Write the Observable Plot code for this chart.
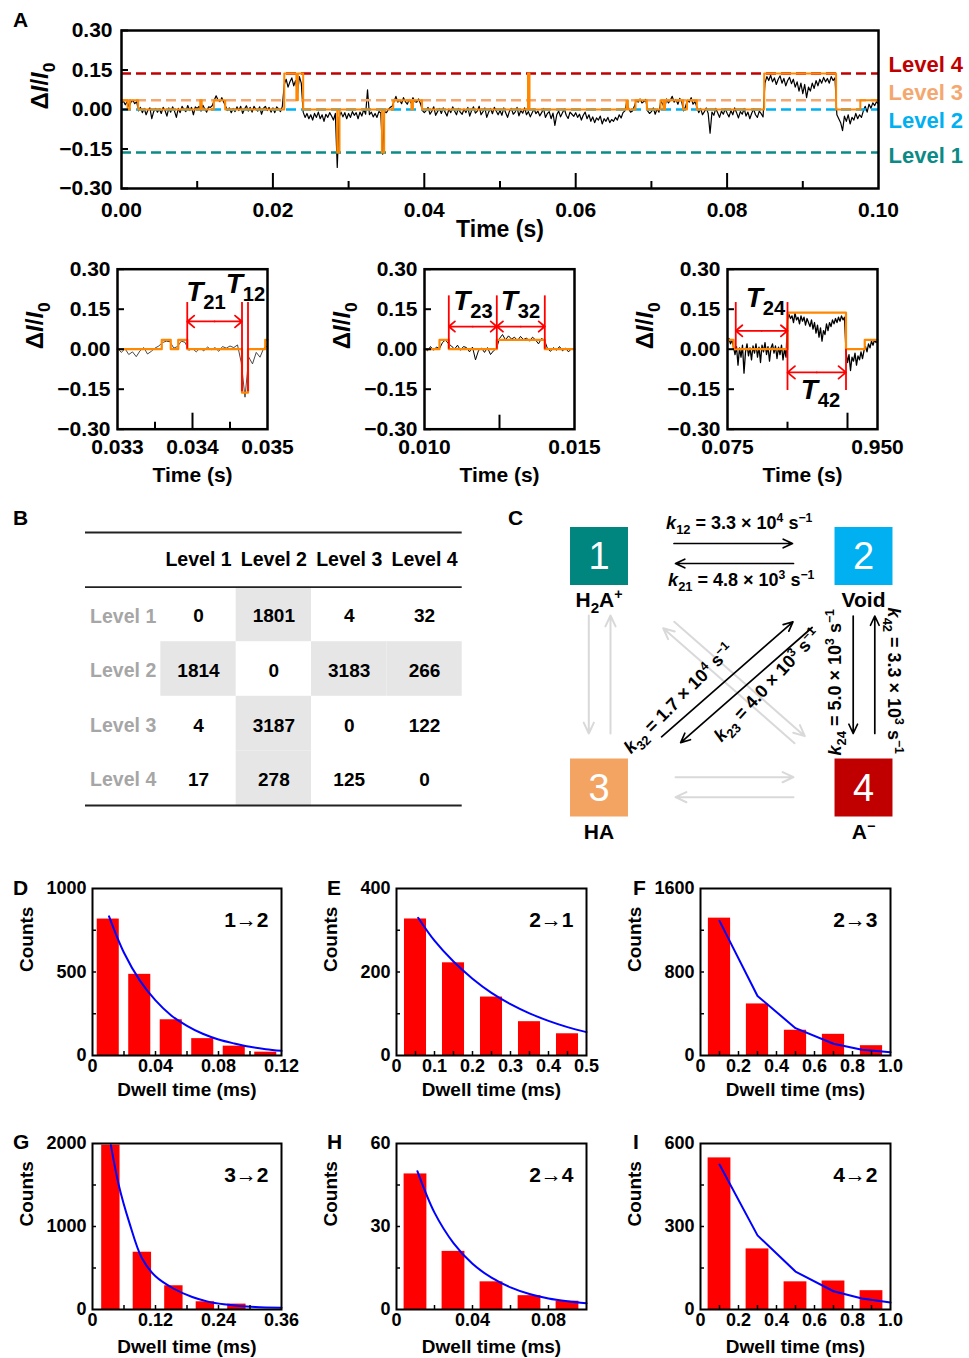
<!DOCTYPE html>
<html><head><meta charset="utf-8">
<script src="https://cdn.jsdelivr.net/npm/d3@7"></script>
<script src="https://cdn.jsdelivr.net/npm/@observablehq/plot@0.6"></script>
<style>
body{margin:0;background:#fff;}
#page{position:relative;width:969px;height:1358px;overflow:hidden;background:#fff;font-family:"Liberation Sans",Arial,sans-serif;}
#page svg{position:absolute;left:0;top:0;}
.letter{position:absolute;font-weight:bold;font-size:21px;line-height:21px;}
</style></head><body><div id="page"></div>
<script>
// ---------------- DATA ----------------
// Panel A: levels
const levelNames = ["Level 1","Level 2","Level 3","Level 4"];
const levelValues = [-0.163, 0.0, 0.035, 0.137];
// Panel A: raw trace (0 to 0.1 s, step 0.00025 s)
const traceStart = 0, traceStep = 0.00025;
const traceValues = [
0.025,0.032,0.018,0.03,0.01,0.028,0.035,0.022,0.03,-0.005,0.008,-0.012,0.004,-0.02,-0.002,0.006,-0.035,-0.008,0.004,-0.01,
0.002,-0.015,0.008,-0.004,-0.025,0.006,-0.01,0.01,-0.006,-0.03,0.004,-0.012,0.012,0.0,-0.008,0.015,-0.004,0.008,-0.02,0.01,
0.004,0.012,-0.006,0.016,0.002,-0.01,0.01,0.008,0.015,0.035,0.052,0.036,0.03,0.045,0.028,0.012,-0.004,0.006,-0.012,0.004,
-0.008,0.01,-0.004,0.012,-0.015,0.002,0.014,-0.006,0.008,-0.01,0.012,0.0,-0.006,0.01,-0.018,0.004,0.012,-0.004,0.008,-0.01,
0.006,-0.012,0.01,0.002,-0.008,0.012,0.095,0.115,0.085,0.105,0.12,0.09,0.11,0.06,0.125,0.1,-0.01,-0.03,-0.015,-0.035,
-0.02,-0.04,-0.015,-0.03,-0.01,-0.035,-0.02,-0.045,-0.018,-0.03,-0.012,-0.025,-0.04,-0.015,-0.22,-0.03,-0.01,-0.028,-0.012,-0.035,
-0.015,-0.03,-0.008,-0.022,-0.012,-0.035,-0.01,-0.025,0.0,-0.018,0.075,-0.02,-0.01,-0.028,-0.015,-0.03,-0.008,-0.012,-0.17,-0.008,
-0.012,0.0,0.008,0.012,0.03,0.05,0.028,0.035,0.022,0.045,0.03,0.02,0.038,0.025,0.045,0.03,0.028,0.04,0.022,-0.004,
-0.012,-0.004,0.008,-0.018,-0.006,0.01,-0.022,-0.008,0.004,-0.015,0.006,-0.01,-0.025,0.002,-0.012,0.01,-0.006,-0.02,0.004,-0.01,
-0.018,0.002,-0.012,0.008,-0.025,-0.004,0.01,-0.014,-0.006,0.012,-0.02,-0.008,0.006,-0.03,-0.01,0.004,-0.016,0.008,-0.006,-0.02,
-0.004,-0.022,0.006,-0.012,-0.03,-0.006,0.004,-0.018,-0.01,0.008,-0.024,-0.004,-0.014,0.006,-0.02,-0.008,-0.028,-0.012,0.002,-0.016,
-0.006,-0.024,-0.012,0.004,-0.03,-0.016,-0.008,-0.035,-0.014,-0.06,-0.02,-0.006,-0.028,-0.012,0.002,-0.022,-0.034,-0.01,-0.018,-0.026,
-0.012,-0.03,-0.018,-0.04,-0.022,-0.01,-0.035,-0.02,-0.045,-0.028,-0.05,-0.032,-0.04,-0.025,-0.055,-0.035,-0.045,-0.03,-0.05,-0.038,
-0.045,-0.03,-0.04,-0.02,-0.032,-0.012,-0.005,0.03,0.004,-0.01,-0.006,0.012,0.035,0.028,0.04,0.025,0.03,0.038,-0.005,-0.015,
-0.008,0.006,-0.018,0.002,-0.01,0.032,0.02,0.004,0.04,0.025,0.035,0.05,0.028,0.038,0.02,0.042,0.03,-0.005,0.01,0.035,
0.028,0.045,0.02,0.03,0.01,-0.012,0.004,-0.02,-0.008,0.006,-0.015,-0.09,-0.01,-0.022,0.004,-0.012,-0.03,-0.006,-0.018,0.002,
-0.014,-0.028,-0.004,-0.02,0.006,-0.012,-0.032,-0.008,-0.018,0.004,-0.025,-0.01,-0.035,-0.014,0.002,-0.02,-0.03,-0.006,-0.016,-0.028,
0.1,0.125,0.11,0.13,0.105,0.12,0.095,0.115,0.128,0.1,0.118,0.09,0.11,0.122,0.098,0.115,0.085,0.105,0.07,0.1,
0.06,0.095,0.045,0.085,0.07,0.1,0.08,0.11,0.09,0.115,0.1,0.122,0.105,0.118,0.1,0.125,0.11,0.12,-0.02,-0.035,
-0.05,-0.08,-0.025,-0.045,-0.02,-0.055,-0.03,-0.04,-0.015,-0.035,-0.02,-0.03,-0.005,0.012,-0.01,0.02,0.005,0.025,0.015,0.03,
0.02];
// Panel A: idealized level sequence (time of change, level number)
const idealTimes = [0,0.0008,0.0011,0.0022,0.0104,0.0106,0.0122,0.0137,0.0215,0.0231,0.0233,0.0240,0.0285,0.0288,0.0344,0.0347,0.0359,0.0383,0.0385,0.0397,0.0537,0.0539,0.0667,0.0669,0.0679,0.0694,0.0712,0.0716,0.0718,0.0742,0.0747,0.0760,0.0849,0.0944,0.0976,0.1000];
const idealLevels = [3,2,3,2,3,2,3,2,4,3,4,2,1,2,1,2,3,2,3,2,4,2,3,2,3,2,3,2,3,2,3,2,4,2,3,3];
const mainXTicks = [0,0.02,0.04,0.06,0.08,0.1];
const mainXText = ["0.00","0.02","0.04","0.06","0.08","0.10"];
const yTicksDI = [-0.3,-0.15,0,0.15,0.3];

// Inset 1 (0.033-0.035 s)
const inset1Start = 0.033, inset1Step = 0.00005;
const inset1Values = [0.004,-0.012,0.002,-0.02,-0.01,-0.028,-0.006,0.006,-0.018,-0.008,
0.004,0.012,0.025,0.03,0.028,0.004,0.01,0.03,0.026,-0.004,
0.002,-0.01,0.004,-0.006,0.008,-0.002,0.006,-0.008,0.01,0.004,
0.012,0.006,0.016,-0.05,-0.18,-0.03,-0.055,-0.012,-0.03,0.004,0.012];
const inset1IdealTimes = [0.033,0.03359,0.03371,0.03381,0.03393,0.03466,0.03474,0.03497,0.035];
const inset1IdealLevels = [2,3,2,3,2,1,2,3,3];
const inset1Transitions = [0.03393,0.03466,0.03474];
const inset1XTicks = [0.033,0.034,0.035], inset1XText = ["0.033","0.034","0.035"];

// Inset 2 (0.010-0.015 s)
const inset2Start = 0.010, inset2Step = 0.0001;
const inset2Values = [0.004,-0.006,0.01,-0.004,0.008,0.002,0.025,0.035,0.02,
0.012,0.0,0.015,-0.004,0.01,0.006,-0.01,0.008,-0.04,-0.005,0.004,-0.012,0.006,-0.02,-0.006,0.003,
0.04,0.055,0.035,0.05,0.038,0.045,0.032,0.048,0.036,0.042,0.03,0.045,0.035,0.02,0.04,0.034,
0.002,-0.008,0.006,-0.004,0.01,-0.006,0.004,-0.01,0.002,0.0];
const inset2IdealTimes = [0.010,0.0105,0.01081,0.01241,0.01401,0.015];
const inset2IdealLevels = [2,3,2,3,2,2];
const inset2Transitions = [0.01081,0.01241,0.01401];
const inset2XTicks = [0.010,0.015], inset2XText = ["0.010","0.015"];

// Inset 3 (0.075-0.095 s)
const inset3Start = 0.075, inset3Step = 0.0002;
const inset3Values = [0.03,0.04,0.02,0.035,0.01,
-0.02,0.01,-0.06,0.005,-0.03,0.015,-0.09,-0.01,0.02,-0.025,0.005,-0.04,0.012,-0.015,0.02,-0.03,0.008,-0.05,0.015,-0.01,0.025,-0.02,0.01,-0.045,0.005,0.02,-0.015,0.012,-0.035,0.008,-0.02,0.015,-0.04,0.0,-0.03,
0.11,0.13,0.115,0.125,0.1,0.135,0.11,0.12,0.095,0.125,0.105,0.12,0.09,0.115,0.1,0.085,0.11,0.075,0.1,0.06,0.09,0.045,0.08,0.03,0.07,0.055,0.095,0.07,0.1,0.085,0.11,0.095,0.115,0.1,0.12,0.105,0.125,0.11,0.12,
-0.01,-0.05,-0.02,-0.08,-0.03,-0.045,-0.015,-0.06,-0.025,-0.04,-0.01,-0.035,-0.005,
0.01,-0.01,0.02,0.005,0.03,0.015,0.035,0.025,0.03];
const inset3IdealTimes = [0.075,0.0758,0.083,0.0908,0.0933,0.095];
const inset3IdealLevels = [3,2,4,2,3,3];
const inset3Transitions = [0.0761,0.083,0.0908];
const inset3XTicks = [0.075,0.095], inset3XText = ["0.075","0.950"];

// Panel B: transition counts (row = from, column = to)
const transitionCounts = [
  [0,1801,4,32],
  [1814,0,3183,266],
  [4,3187,0,122],
  [17,278,125,0]];

// Panel C: states and rates
const stateIds = ["1","2","3","4"];
const stateNames = ["H_{2}A^{+}","Void","HA","A^{−}"];
const rateFrom = [1,2,3,2,2,4];
const rateTo   = [2,1,2,3,4,2];
const rateText = ["*k*_{12} = 3.3 × 10^{4} s^{−1}","*k*_{21} = 4.8 × 10^{3} s^{−1}",
  "*k*_{32} = 1.7 × 10^{4} s^{−1}","*k*_{23} = 4.0 × 10^{3} s^{−1}",
  "*k*_{24} = 5.0 × 10^{3} s^{−1}","*k*_{42} = 3.3 × 10^{3} s^{−1}"];
const minorFrom = [1,3,3,4,1,4];
const minorTo   = [3,1,4,3,4,1];

// Panels D-I: dwell time histograms
const h12Centers=[0.01,0.03,0.05,0.07,0.09,0.11], h12Counts=[817,486,214,101,56,20];
const h12FitT=[0.0105,0.02,0.03,0.04,0.05,0.06,0.07,0.08,0.09,0.10,0.11,0.12], h12FitN=[833,615,450,330,240,178,130,96,72,52,38,28];
const h21Centers=[0.05,0.15,0.25,0.35,0.45], h21Counts=[327,222,140,81,52];
const h21FitT=[0.057,0.1,0.15,0.2,0.25,0.3,0.35,0.4,0.45,0.5], h21FitN=[330,275,225,184,150,123,101,83,68,56];
const h23Centers=[0.1,0.3,0.5,0.7,0.9], h23Counts=[1316,494,242,203,94];
const h23FitT=[0.1,0.3,0.5,0.7,0.85,1.0], h23FitN=[1290,570,262,113,55,32];
const h32Centers=[0.035,0.095,0.155,0.215,0.275], h32Counts=[1980,690,286,93,65];
const h32FitT=[0.035,0.05,0.07,0.094,0.12,0.155,0.19,0.22,0.25,0.28,0.31,0.36], h32FitN=[1980,1500,1050,620,400,250,150,95,62,42,30,20];
const h24Centers=[0.01,0.03,0.05,0.07,0.09], h24Counts=[49,21,10,5,3];
const h24FitT=[0.011,0.02,0.03,0.04,0.05,0.06,0.07,0.08,0.09,0.1], h24FitN=[50,35,24,16.5,11.5,8,5.6,4,3,2.3];
const h42Centers=[0.1,0.3,0.5,0.7,0.9], h42Counts=[548,219,100,103,68];
const h42FitT=[0.1,0.3,0.5,0.7,0.85,1.0], h42FitN=[524,268,137,66,40,25];

// ---------------- STYLE / LAYOUT ----------------
const W = 969, H = 1358;
const FONT = "'Liberation Sans', Arial, Helvetica, sans-serif";
const levelColors = ["#0b8a86","#00b0f0","#f4a870","#c00000"];
const ORANGE = "#ff8800";
const baseStyle = {background:"transparent", fontFamily:FONT, fontSize:"20px", fontWeight:"bold", color:"#000", overflow:"visible"};
const page = document.getElementById("page");
const fmt2 = d3.format(".2f");
function fm(f){ return {width:W, height:H, marginLeft:f.l, marginTop:f.t, marginRight:W-f.r, marginBottom:H-f.b}; }

function tracePanel(c) {
  const f = c.frame, fw = f.r - f.l, fh = f.b - f.t;
  const xMap = new Map(c.xTicks.map((v,i)=>[v, c.xText[i]]));
  const ideal = c.idealT.map((t,i)=>({t, v: levelValues[c.idealL[i]-1]}));
  const marks = [];
  marks.push(Plot.line(c.values, {x:(d,i)=>c.start + i*c.step, y:d=>d, stroke:c.traceColor, strokeWidth:c.traceWidth}));
  if (c.levels) {
    levelValues.forEach((v,i)=>{
      marks.push(Plot.ruleY([v], {y:d=>d, stroke:levelColors[i], strokeWidth:2.5, strokeDasharray:"10,5"}));
    });
  }
  marks.push(Plot.line(ideal, {x:"t", y:"v", curve:"step-after", stroke:ORANGE, strokeWidth:c.idealWidth}));
  if (c.markers) marks.push(Plot.ruleX(c.markers, {x:"t", y1:"y1", y2:"y2", stroke:"#ff0000", strokeWidth:1.8}));
  if (c.arrows) c.arrows.forEach(a=>{
    const mid = (a.t1 + a.t2)/2;
    marks.push(Plot.arrow([a], {x1:()=>mid, y1:d=>d.y, x2:d=>d.t1, y2:d=>d.y, stroke:"#ff0000", strokeWidth:1.8, headLength:10, headAngle:80}));
    marks.push(Plot.arrow([a], {x1:()=>mid, y1:d=>d.y, x2:d=>d.t2, y2:d=>d.y, stroke:"#ff0000", strokeWidth:1.8, headLength:10, headAngle:80}));
  });
  if (c.labels) marks.push(Plot.text(c.labels, {x:"t", y:"y", text:"text", fontSize:28, fontWeight:"bold", fill:"#000"}));
  marks.push(Plot.tickY(c.yTicks, {y:d=>d, insetRight: fw-7, stroke:"#000", strokeWidth:2}));
  marks.push(Plot.tickX(c.majorX, {x:d=>d, insetTop: fh-c.majorLen, stroke:"#000", strokeWidth:2}));
  if (c.minorX.length) marks.push(Plot.tickX(c.minorX, {x:d=>d, insetTop: fh-c.minorLen, stroke:"#000", strokeWidth:2}));
  marks.push(Plot.frame({stroke:"#000", strokeWidth:2.5}));
  marks.push(Plot.axisY({ticks:c.yTicks, tickSize:0, tickPadding:c.yPad, tickFormat:fmt2, label:null, fontSize:c.tickFont, fontWeight:"bold"}));
  marks.push(Plot.axisX({ticks:c.xTicks, tickSize:0, tickPadding:c.xPad, tickFormat:d=>xMap.get(d), label:null, fontSize:c.tickFont, fontWeight:"bold"}));
  marks.push(Plot.text(["Time (s)"], {text:d=>d, frameAnchor:"bottom", dy:c.xLabelDy, fontSize:c.labelFont, fontWeight:"bold"}));
  marks.push(Plot.text(["Δ*I*/*I*_{0}"], {text:d=>d, frameAnchor:"left", dx:c.yLabelDx, rotate:-90, fontSize:24, fontWeight:"bold"}));
  if (c.levels) {
    const dys = [4, 11, -7, -8];
    levelNames.forEach((n,i)=>{
      marks.push(Plot.text([n], {text:d=>d, frameAnchor:"right", y:levelValues[i], dx:10, dy:dys[i], textAnchor:"start", fill:levelColors[i], fontSize:22, fontWeight:"bold"}));
    });
  }
  return Plot.plot({...fm(f), style:baseStyle, x:{domain:c.xDomain}, y:{domain:[-0.3,0.3]}, marks});
}

function histPanel(p) {
  const f = p.frame, fw = f.r - f.l, fh = f.b - f.t;
  const bars = p.centers.map((c,i)=>({c, n:p.counts[i]}));
  const fit = p.fitT.map((t,i)=>({t, n:p.fitN[i]}));
  const xMap = new Map(p.xTicks.map((v,i)=>[v, p.xText[i]]));
  const yMap = new Map(p.yTicks.map((v,i)=>[v, p.yText[i]]));
  const mids = a => a.slice(1).map((v,i)=>(v + a[i])/2);
  const xt = p.xTicks.slice(1).concat(mids(p.xTicks)).filter(v=>v<p.xDomain[1]);
  const yt = p.yTicks.slice(1,-1).concat(mids(p.yTicks));
  return Plot.plot({...fm(f), style:baseStyle, x:{domain:p.xDomain}, y:{domain:p.yDomain}, marks:[
    Plot.rectY(bars, {x1:d=>d.c - p.barW/2, x2:d=>d.c + p.barW/2, y1:()=>0, y2:"n", fill:"#ff0000"}),
    Plot.line(fit, {x:"t", y:"n", curve:p.curve, stroke:"#0000ff", strokeWidth:2}),
    Plot.tickX(xt, {x:d=>d, insetTop:fh-4, stroke:"#000", strokeWidth:1.5}),
    Plot.tickY(yt, {y:d=>d, insetRight:fw-4, stroke:"#000", strokeWidth:1.5}),
    Plot.frame({stroke:"#000", strokeWidth:2}),
    Plot.axisX({ticks:p.xTicks, tickSize:0, tickPadding:4, tickFormat:d=>xMap.get(d), label:null, fontSize:18, fontWeight:"bold"}),
    Plot.axisY({ticks:p.yTicks, tickSize:0, tickPadding:6, tickFormat:d=>yMap.get(d), label:null, fontSize:18, fontWeight:"bold"}),
    Plot.text([p.tag], {text:d=>d, frameAnchor:"top-right", dx:-13, dy:24, textAnchor:"end", fontSize:21, fontWeight:"bold"}),
    Plot.text(["Dwell time (ms)"], {text:d=>d, frameAnchor:"bottom", dy:p.xLabelDy, fontSize:19, fontWeight:"bold"}),
    Plot.text(["Counts"], {text:d=>d, frameAnchor:"left", dx:-66, rotate:-90, fontSize:19, fontWeight:"bold"})
  ]});
}

const svgs = [];

// Panel A main
svgs.push(tracePanel({frame:{l:121,t:30,r:878,b:188}, xDomain:[0,0.1], start:traceStart, step:traceStep, values:traceValues,
  traceColor:"#000", traceWidth:1.2, idealT:idealTimes, idealL:idealLevels, idealWidth:2, levels:true,
  xTicks:mainXTicks, xText:mainXText, yTicks:yTicksDI, majorX:[0.02,0.04,0.06,0.08], majorLen:15, minorX:[0.01,0.03,0.05,0.07,0.09], minorLen:7,
  yPad:9, xPad:14, tickFont:21, labelFont:23, xLabelDy:48, yLabelDx:-81}));

// Insets
svgs.push(tracePanel({frame:{l:117,t:268.7,r:267,b:428.7}, xDomain:[0.033,0.035], start:inset1Start, step:inset1Step, values:inset1Values,
  traceColor:"#333", traceWidth:0.9, idealT:inset1IdealTimes, idealL:inset1IdealLevels, idealWidth:2.2,
  xTicks:inset1XTicks, xText:inset1XText, yTicks:yTicksDI, majorX:[0.034], majorLen:16, minorX:[0.0335,0.0345], minorLen:7,
  markers:[{t:inset1Transitions[0],y1:0.175,y2:0},{t:inset1Transitions[1],y1:0.175,y2:-0.16},{t:inset1Transitions[2],y1:0.175,y2:-0.16}],
  arrows:[{t1:inset1Transitions[0],t2:inset1Transitions[1],y:0.104}],
  labels:[{text:"*T*_{21}",t:0.03418,y:0.213},{text:"*T*_{12}",t:0.034707,y:0.2445}],
  yPad:7, xPad:10, tickFont:21, labelFont:21, xLabelDy:53, yLabelDx:-82}));
svgs.push(tracePanel({frame:{l:424,t:268.7,r:574,b:428.7}, xDomain:[0.010,0.015], start:inset2Start, step:inset2Step, values:inset2Values,
  traceColor:"#000", traceWidth:1, idealT:inset2IdealTimes, idealL:inset2IdealLevels, idealWidth:2.2,
  xTicks:inset2XTicks, xText:inset2XText, yTicks:yTicksDI, majorX:[0.0125], majorLen:14, minorX:[], minorLen:7,
  markers:inset2Transitions.map(t=>({t,y1:0.2,y2:0})),
  arrows:[{t1:inset2Transitions[0],t2:inset2Transitions[1],y:0.085},{t1:inset2Transitions[1],t2:inset2Transitions[2],y:0.085}],
  labels:[{text:"*T*_{23}",t:0.011617,y:0.181},{text:"*T*_{32}",t:0.0132,y:0.181}],
  yPad:7, xPad:10, tickFont:21, labelFont:21, xLabelDy:53, yLabelDx:-82}));
svgs.push(tracePanel({frame:{l:727,t:268.7,r:877,b:428.7}, xDomain:[0.075,0.095], start:inset3Start, step:inset3Step, values:inset3Values,
  traceColor:"#000", traceWidth:1.3, idealT:inset3IdealTimes, idealL:inset3IdealLevels, idealWidth:2.2,
  xTicks:inset3XTicks, xText:inset3XText, yTicks:yTicksDI, majorX:[0.091], majorLen:16, minorX:[0.083], minorLen:7,
  markers:[{t:inset3Transitions[0],y1:0.175,y2:0},{t:inset3Transitions[1],y1:0.175,y2:-0.155},{t:inset3Transitions[2],y1:0,y2:-0.155}],
  arrows:[{t1:inset3Transitions[0],t2:inset3Transitions[1],y:0.069},{t1:inset3Transitions[1],t2:inset3Transitions[2],y:-0.087}],
  labels:[{text:"*T*_{24}",t:0.08007,y:0.191},{text:"*T*_{42}",t:0.0874,y:-0.153}],
  yPad:7, xPad:10, tickFont:21, labelFont:21, xLabelDy:53, yLabelDx:-82}));

// Panel B: table
{
  const cells = [];
  transitionCounts.forEach((row,r)=>row.forEach((v,c)=>cells.push({r,c,v})));
  const grey = cells.filter(d=>(d.r===1 || d.c===1) && d.r!==d.c);
  svgs.push(Plot.plot({width:W, height:H, marginLeft:85, marginRight:W-461.7, marginTop:532, marginBottom:H-805,
    style:baseStyle,
    x:{domain:[0,5], axis:null},
    y:{domain:[0,5], reverse:true, axis:null},
    marks:[
      Plot.rect(grey, {x1:d=>d.c+1, x2:d=>d.c+2, y1:d=>d.r+1, y2:d=>d.r+2, fill:"#e6e6e6"}),
      Plot.ruleY([0,1,5], {y:d=>d, stroke:"#222", strokeWidth:1.8}),
      Plot.text(levelNames, {text:d=>d, x:(d,i)=>i+1.5, y:()=>0.5, fontSize:19.5, fontWeight:"bold", fill:"#000"}),
      Plot.text(levelNames, {text:d=>d, x:()=>0.5, y:(d,i)=>i+1.5, dy:2, fontSize:19.5, fontWeight:"bold", fill:"#a6a6a6"}),
      Plot.text(cells, {text:d=>String(d.v), x:d=>d.c+1.5, y:d=>d.r+1.5, dy:2, fontSize:19, fontWeight:"bold", fill:"#000"})
    ]}));
}

// Panel C: kinetic scheme
{
  const statePos = [[0,0],[1,0],[0,1],[1,1]];
  const stateColors = ["#00857f","#00b0f0","#f4a462","#c00000"];
  const arrowLayout = {
    "1-2":{dx:0,dy:-12.5,s:75,e:71}, "2-1":{dx:0,dy:7.5,s:70,e:76.5},
    "3-2":{dx:2,dy:2.3,s:80.5,e:96.4}, "2-3":{dx:13.2,dy:15,s:85.8,e:91},
    "2-4":{dx:-10.3,dy:0,s:60,e:54}, "4-2":{dx:11.3,dy:0,s:54,e:60},
    "1-3":{dx:-10.2,dy:0,s:59.5,e:54}, "3-1":{dx:11.5,dy:0,s:54,e:59.5},
    "3-4":{dx:0,dy:-10.3,s:76.5,e:70}, "4-3":{dx:0,dy:9.7,s:70,e:76.5},
    "1-4":{dx:0,dy:0,s:100,e:78}, "4-1":{dx:-8,dy:9,s:81,e:96}};
  const labelLayout = {
    "1-2":{dx:8,dy:-33,rot:0}, "2-1":{dx:10,dy:24.5,rot:0},
    "3-2":{dx:-52.5,dy:27,rot:-45}, "2-3":{dx:36,dy:13.7,rot:-47},
    "2-4":{dx:-28,dy:10.5,rot:-90}, "4-2":{dx:30,dy:9,rot:90}};
  const marks = [];
  const arrowMark = (from,to,color,width) => {
    const L = arrowLayout[from+"-"+to];
    const a = {from,to};
    return Plot.arrow([a], {x1:d=>statePos[d.from-1][0], y1:d=>statePos[d.from-1][1], x2:d=>statePos[d.to-1][0], y2:d=>statePos[d.to-1][1],
      dx:L.dx, dy:L.dy, insetStart:L.s, insetEnd:L.e, stroke:color, strokeWidth:width, headLength:9, headAngle:50});
  };
  minorFrom.forEach((f,i)=>marks.push(arrowMark(f, minorTo[i], "#d9d9d9", 2)));
  rateFrom.forEach((f,i)=>marks.push(arrowMark(f, rateTo[i], "#000", 1.7)));
  stateIds.forEach((s,i)=>{
    marks.push(Plot.dot([s], {x:()=>statePos[i][0], y:()=>statePos[i][1], symbol:"square", r:32.7, fill:stateColors[i]}));
    marks.push(Plot.text([s], {text:d=>d, x:()=>statePos[i][0], y:()=>statePos[i][1], fill:"#fff", fontSize:38, fontWeight:"normal", dy:1}));
    marks.push(Plot.text([stateNames[i]], {text:d=>d, x:()=>statePos[i][0], y:()=>statePos[i][1], dy: i<2 ? 44 : 45, fill:"#000", fontSize:21, fontWeight:"bold"}));
  });
  rateText.forEach((t,i)=>{
    const a = statePos[rateFrom[i]-1], b = statePos[rateTo[i]-1];
    const L = labelLayout[rateFrom[i]+"-"+rateTo[i]];
    marks.push(Plot.text([t], {text:d=>d, x:()=>(a[0]+b[0])/2, y:()=>(a[1]+b[1])/2, dx:L.dx, dy:L.dy, rotate:L.rot, fontSize:18, fontWeight:"bold", fill:"#000"}));
  });
  svgs.push(Plot.plot({width:W, height:H, marginLeft:598.5, marginRight:W-863, marginTop:555.5, marginBottom:H-787,
    style:baseStyle, x:{domain:[0,1], axis:null}, y:{domain:[0,1], reverse:true, axis:null}, marks}));
}

// Panels D-I
const histPanels = [
  {frame:{l:92,t:888,r:281,b:1055}, centers:h12Centers, counts:h12Counts, fitT:h12FitT, fitN:h12FitN, curve:"catmull-rom", barW:0.014,
   xDomain:[0,0.12], yDomain:[0,1000], xTicks:[0,0.04,0.08,0.12], xText:["0","0.04","0.08","0.12"], yTicks:[0,500,1000], yText:["0","500","1000"], tag:"1→2", xLabelDy:40},
  {frame:{l:396,t:888,r:586,b:1055}, centers:h21Centers, counts:h21Counts, fitT:h21FitT, fitN:h21FitN, curve:"catmull-rom", barW:0.058,
   xDomain:[0,0.5], yDomain:[0,400], xTicks:[0,0.1,0.2,0.3,0.4,0.5], xText:["0","0.1","0.2","0.3","0.4","0.5"], yTicks:[0,200,400], yText:["0","200","400"], tag:"2→1", xLabelDy:40},
  {frame:{l:700,t:888,r:890,b:1055}, centers:h23Centers, counts:h23Counts, fitT:h23FitT, fitN:h23FitN, curve:"linear", barW:0.117,
   xDomain:[0,1], yDomain:[0,1600], xTicks:[0,0.2,0.4,0.6,0.8,1], xText:["0","0.2","0.4","0.6","0.8","1.0"], yTicks:[0,800,1600], yText:["0","800","1600"], tag:"2→3", xLabelDy:40},
  {frame:{l:92,t:1143,r:281,b:1309}, centers:h32Centers, counts:h32Counts, fitT:h32FitT, fitN:h32FitN, curve:"catmull-rom", barW:0.035,
   xDomain:[0,0.36], yDomain:[0,2000], xTicks:[0,0.12,0.24,0.36], xText:["0","0.12","0.24","0.36"], yTicks:[0,1000,2000], yText:["0","1000","2000"], tag:"3→2", xLabelDy:43},
  {frame:{l:396,t:1143,r:586,b:1309}, centers:h24Centers, counts:h24Counts, fitT:h24FitT, fitN:h24FitN, curve:"catmull-rom", barW:0.012,
   xDomain:[0,0.1], yDomain:[0,60], xTicks:[0,0.04,0.08], xText:["0","0.04","0.08"], yTicks:[0,30,60], yText:["0","30","60"], tag:"2→4", xLabelDy:43},
  {frame:{l:700,t:1143,r:890,b:1309}, centers:h42Centers, counts:h42Counts, fitT:h42FitT, fitN:h42FitN, curve:"linear", barW:0.12,
   xDomain:[0,1], yDomain:[0,600], xTicks:[0,0.2,0.4,0.6,0.8,1], xText:["0","0.2","0.4","0.6","0.8","1.0"], yTicks:[0,300,600], yText:["0","300","600"], tag:"4→2", xLabelDy:43}
];
histPanels.forEach(p=>svgs.push(histPanel(p)));

svgs.forEach(s=>page.appendChild(s));

// panel letters
[["A",20,20],["B",20,518],["C",515,518],["D",20,888],["E",334,888],["F",640,888],["G",20,1142],["H",334,1142],["I",640,1142]].forEach(([t,x,y])=>{
  const d = document.createElement("div");
  d.className = "letter"; d.textContent = t;
  d.style.left = (x-7)+"px"; d.style.top = (y-11)+"px";
  page.appendChild(d);
});

// rich text: *italic*, _{sub}, ^{sup}
function richify(root){
  const NS = "http://www.w3.org/2000/svg";
  root.querySelectorAll("text").forEach(el=>{
    if (el.children.length) return;
    const s = el.textContent;
    if (!/[*_^]/.test(s)) return;
    const fs = parseFloat(getComputedStyle(el).fontSize) || 16;
    el.textContent = "";
    let italic = false, cur = 0;
    const re = /\*|_\{([^}]*)\}|\^\{([^}]*)\}|[^*_^]+/g;
    let m;
    while ((m = re.exec(s))) {
      if (m[0] === "*") { italic = !italic; continue; }
      const ts = document.createElementNS(NS, "tspan");
      let off = 0;
      if (m[1] !== undefined) { ts.textContent = m[1]; off = 0.28*fs; ts.setAttribute("font-size", (0.72*fs)+"px"); }
      else if (m[2] !== undefined) { ts.textContent = m[2]; off = -0.38*fs; ts.setAttribute("font-size", (0.68*fs)+"px"); }
      else ts.textContent = m[0];
      if (italic) ts.setAttribute("font-style", "italic");
      if (off !== cur) { ts.setAttribute("dy", (off-cur)+"px"); cur = off; }
      el.appendChild(ts);
    }
  });
}
richify(page);
</script></body></html>
